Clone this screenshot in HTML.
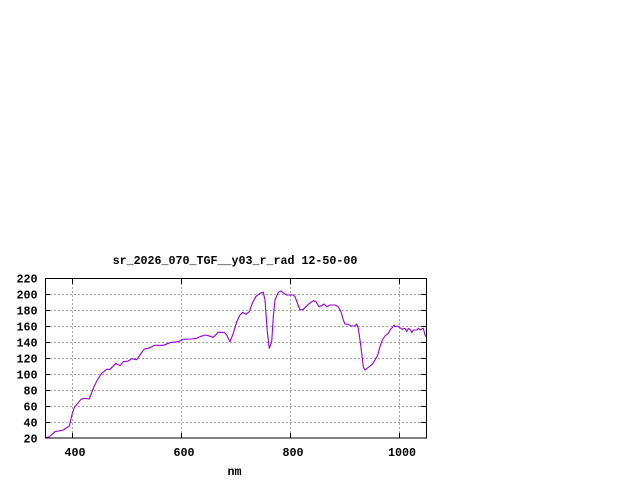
<!DOCTYPE html>
<html>
<head>
<meta charset="utf-8">
<style>
  html,body{margin:0;padding:0;background:#fff;}
  svg{display:block;}
  text{font-family:"Liberation Mono","DejaVu Sans Mono",monospace;font-weight:bold;font-size:11.67px;fill:#000;}
</style>
</head>
<body>
<svg width="640" height="480" viewBox="0 0 640 480" xmlns="http://www.w3.org/2000/svg">
  <rect x="0" y="0" width="640" height="480" fill="#fff"/>
  <!-- grid -->
  <g stroke="#a0a0a0" stroke-width="1" stroke-dasharray="2,2" fill="none" shape-rendering="crispEdges">
    <line x1="46" y1="294.5" x2="426" y2="294.5"/>
    <line x1="46" y1="310.5" x2="426" y2="310.5"/>
    <line x1="46" y1="326.5" x2="426" y2="326.5"/>
    <line x1="46" y1="342.5" x2="426" y2="342.5"/>
    <line x1="46" y1="358.5" x2="426" y2="358.5"/>
    <line x1="46" y1="374.5" x2="426" y2="374.5"/>
    <line x1="46" y1="390.5" x2="426" y2="390.5"/>
    <line x1="46" y1="406.5" x2="426" y2="406.5"/>
    <line x1="46" y1="422.5" x2="426" y2="422.5"/>
    <line x1="72.5" y1="279" x2="72.5" y2="438"/>
    <line x1="181.5" y1="279" x2="181.5" y2="438"/>
    <line x1="290.5" y1="279" x2="290.5" y2="438"/>
    <line x1="399.5" y1="279" x2="399.5" y2="438"/>
  </g>
  <!-- ticks -->
  <g stroke="#000" stroke-width="1" shape-rendering="crispEdges">
    <line x1="45" y1="294.5" x2="50" y2="294.5"/>
    <line x1="45" y1="310.5" x2="50" y2="310.5"/>
    <line x1="45" y1="326.5" x2="50" y2="326.5"/>
    <line x1="45" y1="342.5" x2="50" y2="342.5"/>
    <line x1="45" y1="358.5" x2="50" y2="358.5"/>
    <line x1="45" y1="374.5" x2="50" y2="374.5"/>
    <line x1="45" y1="390.5" x2="50" y2="390.5"/>
    <line x1="45" y1="406.5" x2="50" y2="406.5"/>
    <line x1="45" y1="422.5" x2="50" y2="422.5"/>
    <line x1="421" y1="294.5" x2="426" y2="294.5"/>
    <line x1="421" y1="310.5" x2="426" y2="310.5"/>
    <line x1="421" y1="326.5" x2="426" y2="326.5"/>
    <line x1="421" y1="342.5" x2="426" y2="342.5"/>
    <line x1="421" y1="358.5" x2="426" y2="358.5"/>
    <line x1="421" y1="374.5" x2="426" y2="374.5"/>
    <line x1="421" y1="390.5" x2="426" y2="390.5"/>
    <line x1="421" y1="406.5" x2="426" y2="406.5"/>
    <line x1="421" y1="422.5" x2="426" y2="422.5"/>
    <line x1="72.5" y1="438" x2="72.5" y2="433"/>
    <line x1="181.5" y1="438" x2="181.5" y2="433"/>
    <line x1="290.5" y1="438" x2="290.5" y2="433"/>
    <line x1="399.5" y1="438" x2="399.5" y2="433"/>
    <line x1="72.5" y1="279" x2="72.5" y2="284"/>
    <line x1="181.5" y1="279" x2="181.5" y2="284"/>
    <line x1="290.5" y1="279" x2="290.5" y2="284"/>
    <line x1="399.5" y1="279" x2="399.5" y2="284"/>
  </g>
  <!-- data -->
  <polyline fill="none" stroke="#9400d3" stroke-width="1.1" stroke-linejoin="round"
    points="45,437.5 49,437 55,431.7 63.3,430 69.3,426 72.3,413.3 74.3,407.7 77.7,403.3 81,399.3 84.3,398.3 89.3,399 93.3,388.3 97.3,380 101.7,373.3 106.7,369.3 110,369.3 116,363.3 120,365.7 123.3,361.7 128.3,361 131.7,358.7 136.7,359.7 140,355 144,349.3 150,347.7 154.3,345.3 163.3,345.3 170,342.7 171.7,342.3 178.3,341.7 183.3,339.3 191.7,339 196.7,338.3 200,336.7 205,335 208.3,335.7 213.3,337.3 218.3,332.3 224.3,332.3 226.7,335 230,341.7 233.3,333.3 236.7,321.7 240,315 242.7,312.3 246,314.3 249.3,311.7 252.3,303.3 255.7,296.7 260,293.3 263.3,292.3 265,300 267.3,331.7 269.3,348.3 271.7,341.7 273.3,316.7 275,300 278.3,292.3 280.7,291 284,293.3 286.7,295 293.3,295 295,296.7 297.7,304 300,310 303.3,309.3 308.3,304.3 313.3,300.7 316,301.7 319,306.7 321.7,305.7 324,304 326.7,306.7 330,305 335,305 338.3,306.7 341,311.7 343.3,320 345,324 348.3,324.3 351,326 355,326 356.7,324 358.3,328.3 360,340 361.7,353.3 363.3,366.7 365,370 368.3,367.3 372.3,364.3 375,360 377.7,355 380,346.7 382.3,340 385,336 388.3,333.3 390.7,329 392.3,327.7 394,325 395,326.7 397.3,326 400,327.7 402.3,329.3 405,328.3 406.7,331.7 408.3,328.3 410.7,330 411.7,332.7 413.3,330 416.7,330 418.3,328.3 420,330 423.3,328.3 425,335 426,336.7"/>
  <!-- border -->
  <rect x="45.5" y="278.5" width="381" height="159.5" fill="none" stroke="#000" stroke-width="1" shape-rendering="crispEdges"/>
  <!-- y labels -->
  <g text-anchor="end">
    <text x="37.5" y="282.5">220</text>
    <text x="37.5" y="298.5">200</text>
    <text x="37.5" y="314.5">180</text>
    <text x="37.5" y="330.5">160</text>
    <text x="37.5" y="346.5">140</text>
    <text x="37.5" y="362.5">120</text>
    <text x="37.5" y="378.5">100</text>
    <text x="37.5" y="394.5">80</text>
    <text x="37.5" y="410.5">60</text>
    <text x="37.5" y="426.5">40</text>
    <text x="37.5" y="442.5">20</text>
  </g>
  <!-- x labels -->
  <g text-anchor="middle">
    <text x="75" y="456">400</text>
    <text x="184" y="456">600</text>
    <text x="293" y="456">800</text>
    <text x="402" y="456">1000</text>
    <text x="234.5" y="475">nm</text>
    <text x="235" y="264">sr_2026_070_TGF__y03_r_rad 12-50-00</text>
  </g>
</svg>
</body>
</html>
